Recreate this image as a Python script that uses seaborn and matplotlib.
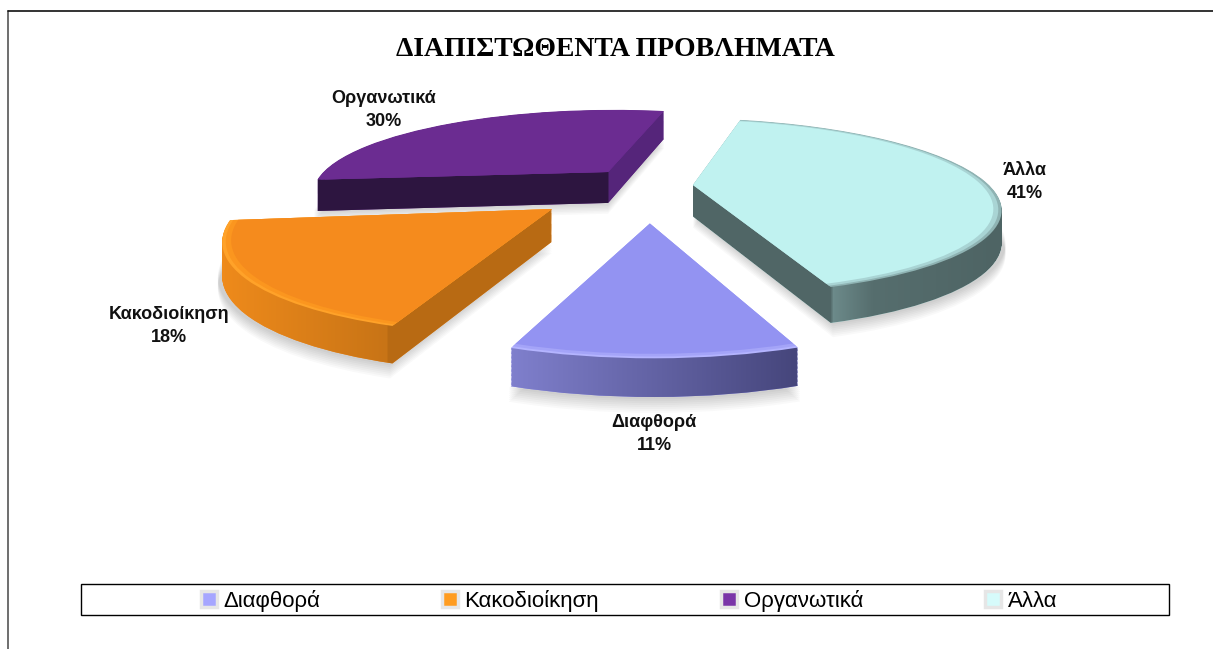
import numpy as np
import matplotlib
matplotlib.use('Agg')
import matplotlib.pyplot as plt
import seaborn as sns
from matplotlib.colors import to_rgb
from matplotlib.patches import Patch, PathPatch, Rectangle
from matplotlib.path import Path
from matplotlib.transforms import IdentityTransform, Transform

title = 'ΔΙΑΠΙΣΤΩΘΕΝΤΑ ΠΡΟΒΛΗΜΑΤΑ'
categories = ['Διαφθορά', 'Κακοδιοίκηση', 'Οργανωτικά', 'Άλλα']
values = [11, 18, 30, 41]

top_colors = ['#9393f2', '#f58b1d', '#6b2c91', '#c0f2f0']
rim_colors = ['#b4b4ff', '#ffa229', '#6b2c91', '#8fb3b3']
mid_colors = ['#a4a4f8', '#fb961f', '#6b2c91', '#a9d4d4']
legend_colors = ['#a6a6ff', '#ff9c20', '#7a35a8', '#d6fbfb']
start_angle = -70

# where each slice sits on the tilted plane (exploded by hand, excel does not explode evenly)
slice_shift = [(0.030, -0.295), (-0.278, -0.148), (-0.112, 0.286), (0.179, 0.123)]
slice_scale = [0.97, 0.985, 1.0, 1.0]
slice_turn = [0, 1, 0, -1.5]

# wall shading, left to right in pixels
wall_shades = [
    [(513, '#7f7fcc'), (795, '#46467c')],
    [(224, '#ee8a1b'), (386, '#c87416'), (388, '#b86a13'), (552, '#b86a13')],
    [(318, '#2d1540'), (607, '#2d1540'), (609, '#55257a'), (663, '#55257a')],
    [(693, '#506666'), (830, '#506666'), (833, '#6c8a8a'), (872, '#566e6e'), (998, '#4e6464')],
]

CX, CY, A, B, P, H = 640, 195.5, 305, 88, 0.25, 32


class Tilt(Transform):
    # puts a flat slice on the tilted plane, z is the drop below the top face
    input_dims = 2
    output_dims = 2

    def __init__(self, z=0, shift=(0, 0), scale=1, turn=0):
        super().__init__()
        self.z = z
        self.shift = shift
        self.scale = scale
        self.turn = np.radians(turn)

    def transform_non_affine(self, xy):
        xy = np.asarray(xy)
        c, s = np.cos(self.turn), np.sin(self.turn)
        x = (xy[:, 0] * c - xy[:, 1] * s) * self.scale + self.shift[0]
        y = (xy[:, 0] * s + xy[:, 1] * c) * self.scale + self.shift[1]
        w = 1 + P * y
        return np.column_stack([CX + A * x / w, CY - B * y / w + H * self.z / np.sqrt(w)])


sns.set_theme(style='white')
plt.rcParams['font.family'] = ['Liberation Sans', 'DejaVu Sans']

fig = plt.figure(figsize=(12.13, 6.49), dpi=100)
ax = fig.add_axes([0, 0, 1, 1])


def draw_pie(z, colors, radius=1, alpha=None, zorder=2):
    wedges, _ = ax.pie(values, colors=colors, startangle=start_angle,
                       counterclock=False, radius=radius,
                       wedgeprops={'linewidth': 0, 'alpha': alpha, 'zorder': zorder})
    for w, s, k, t in zip(wedges, slice_shift, slice_scale, slice_turn):
        w.set_transform(Tilt(z, s, k, t) + ax.transData)
    return wedges


def reset_axes():
    # pie sets its own limits and aspect every time
    ax.set_aspect('auto')
    ax.set_xlim(0, 1213)
    ax.set_ylim(649, 0)


ax.set_axis_off()

# soft shadow under the slices
for k in range(8):
    draw_pie(1.0 + k * 0.05, ['#000000'] * 4, radius=1.012, alpha=0.022, zorder=1)

# side walls are stacked pies, painted with a clipped gradient
layers = [draw_pie(z, top_colors) for z in np.linspace(1, 0.02, 30)]
reset_axes()
fig.canvas.draw()
xs = np.arange(1213)
for i in range(len(values)):
    paths = [lay[i].get_transform().transform_path(lay[i].get_path()) for lay in layers]
    stops = wall_shades[i]
    rgb = np.array([np.interp(xs, [s[0] for s in stops], [to_rgb(s[1])[c] for s in stops])
                    for c in range(3)]).T
    im = ax.imshow(rgb[None, :, :], extent=(0, 1213, 649, 0), aspect='auto', zorder=3)
    clip = PathPatch(Path.make_compound_path(*paths), transform=IdentityTransform())
    im.set_clip_path(clip)

draw_pie(0, rim_colors, zorder=4)
draw_pie(0, mid_colors, radius=0.99, zorder=5)
draw_pie(0, top_colors, radius=0.975, zorder=6)
reset_axes()

ax.text(615, 50, title, family='Liberation Serif', weight='bold', fontsize=20,
        color='black', ha='center', va='center')

label_xy = [(654, 434), (169, 326), (384, 110), (1025, 182)]
for name, val, (lx, ly) in zip(categories, values, label_xy):
    ax.text(lx, ly, f'{name}\n{val}%', weight='bold', fontsize=13, color='#111111',
            ha='center', va='center', linespacing=1.45)

ax.add_patch(Rectangle((81, 584), 1088, 31, fill=False, edgecolor='black', lw=1, zorder=7))
handles = [Patch(facecolor=c, edgecolor='#e6e6e6', linewidth=2.5) for c in legend_colors]
ax.legend(handles, categories, ncol=4, loc='center', frameon=False, fontsize=16,
          bbox_to_anchor=(629, 601), bbox_transform=ax.transData, handlelength=0.7,
          handleheight=0.7, handletextpad=0.3, columnspacing=5.5, labelcolor='black')

# frame of the pasted picture, only left and top show
ax.plot([8, 8], [649, 11], color='#555555', lw=1.2, zorder=7)
ax.plot([8, 1213], [11, 11], color='#111111', lw=1.2, zorder=7)

fig.savefig('out.png', dpi=100)
